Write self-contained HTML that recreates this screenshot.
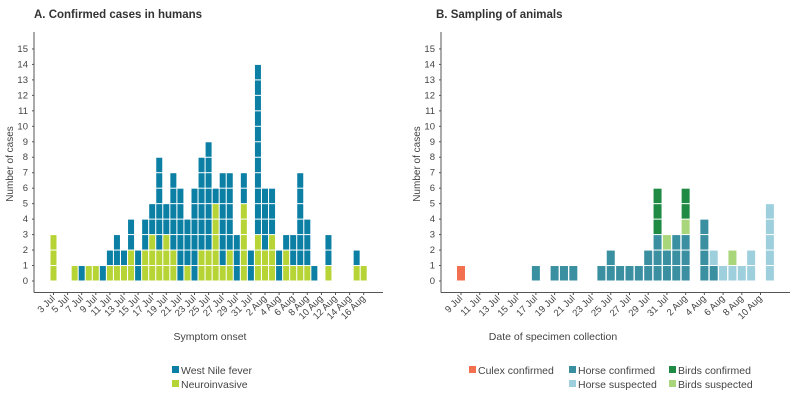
<!DOCTYPE html>
<html><head><meta charset="utf-8">
<style>
body{margin:0;background:#fff;}
svg{display:block;font-family:"Liberation Sans",sans-serif;}
</style></head>
<body>
<svg id="chart" width="800" height="400" viewBox="0 0 800 400">
<text x="34" y="18" font-size="11.5" font-weight="bold" fill="#333">A. Confirmed cases in humans</text>
<text x="436" y="18" font-size="11.5" font-weight="bold" fill="#333">B. Sampling of animals</text>
<g id="pa"></g>
<g id="pb"></g>
</svg>
<script>
// Panel A data: days 3 Jul (index 0) .. 16 Aug (index 44)
const aDays = ["3 Jul","4 Jul","5 Jul","6 Jul","7 Jul","8 Jul","9 Jul","10 Jul","11 Jul","12 Jul","13 Jul","14 Jul","15 Jul","16 Jul","17 Jul","18 Jul","19 Jul","20 Jul","21 Jul","22 Jul","23 Jul","24 Jul","25 Jul","26 Jul","27 Jul","28 Jul","29 Jul","30 Jul","31 Jul","1 Aug","2 Aug","3 Aug","4 Aug","5 Aug","6 Aug","7 Aug","8 Aug","9 Aug","10 Aug","11 Aug","12 Aug","13 Aug","14 Aug","15 Aug","16 Aug"];
const aNeuro = [3,0,0,1,0,1,1,0,1,1,1,2,0,2,3,2,3,2,0,1,0,2,2,5,1,2,0,5,0,3,2,3,0,2,1,1,1,0,0,1,0,0,0,1,1];
const aWnf   = [0,0,0,0,1,0,0,1,1,2,1,2,2,2,2,6,2,5,6,3,6,6,7,1,6,5,3,2,2,11,4,3,2,1,2,6,3,1,0,2,0,0,0,1,0];
const aTicks = ["3 Jul","5 Jul","7 Jul","9 Jul","11 Jul","13 Jul","15 Jul","17 Jul","19 Jul","21 Jul","23 Jul","25 Jul","27 Jul","29 Jul","31 Jul","2 Aug","4 Aug","6 Aug","8 Aug","10 Aug","12 Aug","14 Aug","16 Aug"];
// Panel B data: 9 Jul (index 0) .. 11 Aug (index 33)
const bDays = ["9 Jul","10 Jul","11 Jul","12 Jul","13 Jul","14 Jul","15 Jul","16 Jul","17 Jul","18 Jul","19 Jul","20 Jul","21 Jul","22 Jul","23 Jul","24 Jul","25 Jul","26 Jul","27 Jul","28 Jul","29 Jul","30 Jul","31 Jul","1 Aug","2 Aug","3 Aug","4 Aug","5 Aug","6 Aug","7 Aug","8 Aug","9 Aug","10 Aug","11 Aug"];
const bCulex     = [1,0,0,0,0,0,0,0,0,0,0,0,0,0,0,0,0,0,0,0,0,0,0,0,0,0,0,0,0,0,0,0,0,0];
const bHorseConf = [0,0,0,0,0,0,0,0,1,0,1,1,1,0,0,1,2,1,1,1,2,3,2,3,3,0,4,1,0,0,0,0,0,0];
const bHorseSusp = [0,0,0,0,0,0,0,0,0,0,0,0,0,0,0,0,0,0,0,0,0,0,0,0,0,0,0,1,1,1,1,2,0,5];
const bBirdsSusp = [0,0,0,0,0,0,0,0,0,0,0,0,0,0,0,0,0,0,0,0,0,0,1,0,1,0,0,0,0,1,0,0,0,0];
const bBirdsConf = [0,0,0,0,0,0,0,0,0,0,0,0,0,0,0,0,0,0,0,0,0,3,0,0,2,0,0,0,0,0,0,0,0,0];
const bTicks = ["9 Jul","11 Jul","13 Jul","15 Jul","17 Jul","19 Jul","21 Jul","23 Jul","25 Jul","27 Jul","29 Jul","31 Jul","2 Aug","4 Aug","6 Aug","8 Aug","10 Aug"];
const yTicks = [0,1,2,3,4,5,6,7,8,9,10,11,12,13,14,15];

const NS="http://www.w3.org/2000/svg";
function mk(parent,tag,attrs,text){const e=document.createElementNS(NS,tag);for(const k in attrs)e.setAttribute(k,attrs[k]);if(text!==undefined)e.textContent=text;parent.appendChild(e);return e;}
const base=281, rowH=15.47;
function y(v){return base-rowH*v;}

function panel(g,cfg){
  const ax=cfg.axisX, xEnd=cfg.xEnd;
  const yl=mk(g,'line',{x1:ax,y1:32,x2:ax,y2:292.5,stroke:'#555','stroke-width':1});
  
  
  const xl=mk(g,'line',{x1:ax,y1:292.5,x2:xEnd,y2:292.5,stroke:'#555','stroke-width':1});
  
  
  yTicks.forEach(v=>{
    const t=mk(g,'text',{x:ax-6,y:y(v)+3,'font-size':9.5,fill:'#444','text-anchor':'end'},String(v));
    
    
    mk(g,'line',{x1:ax-2,y1:y(v),x2:ax,y2:y(v),stroke:'#555'});
  });
  const yt=mk(g,'text',{x:0,y:0,'font-size':10,fill:'#444','text-anchor':'middle',transform:`translate(${ax-21},${164}) rotate(-90)`},'Number of cases');
  
  
  const xs=d=>cfg.x0+cfg.pitch*cfg.days.indexOf(d);
  cfg.ticks.forEach(d=>{
    const cx=xs(d);
    mk(g,'line',{x1:cx,y1:292.5,x2:cx,y2:295,stroke:'#555'});
    const t=mk(g,'text',{x:0,y:0,'font-size':9.5,fill:'#444','text-anchor':'end',transform:`translate(${cx+2},${299}) rotate(-45)`},d);
    
    
  });
  cfg.days.forEach((d,i)=>{
    let acc=0;
    cfg.series.forEach(s=>{
      for(let k=0;k<s.vals[i];k++){
        const r=mk(g,'rect',{x:xs(d)-cfg.w/2,y:y(acc+1)+0.5,width:cfg.w,height:rowH-1,fill:s.color});
        
        
        acc++;
      }
    });
  });
  const xt=mk(g,'text',{x:cfg.xTitleX,y:340,'font-size':10.5,fill:'#444','text-anchor':'middle'},cfg.xTitle);
  
  
  cfg.legend.forEach(l=>{
    const r=mk(g,'rect',{x:l.x,y:l.y-8,width:7,height:7,fill:l.color});
    
    
    const t=mk(g,'text',{x:l.x+9,y:l.y,'font-size':10.5,fill:'#444'},l.label);
    
    
  });
}
const C={wnf:'#0b7fa4',neuro:'#b7d437',culex:'#f26f4f',hc:'#3a8fa1',hs:'#9ecfdc',bc:'#1f8a43',bs:'#a9d57b'};
panel(document.getElementById('pa'),{axisX:34,xEnd:383,x0:53.5,pitch:7.05,w:6,days:aDays,ticks:aTicks,
  series:[{key:'neuroinvasive',vals:aNeuro,color:C.neuro},{key:'west-nile-fever',vals:aWnf,color:C.wnf}],
  xTitle:'Symptom onset',xTitleX:210,
  legend:[{x:172,y:374,color:C.wnf,label:'West Nile fever'},{x:172,y:388,color:C.neuro,label:'Neuroinvasive'}]});
panel(document.getElementById('pb'),{axisX:441,xEnd:790,x0:461,pitch:9.36,w:8,days:bDays,ticks:bTicks,
  series:[{key:'culex-confirmed',vals:bCulex,color:C.culex},{key:'horse-confirmed',vals:bHorseConf,color:C.hc},{key:'horse-suspected',vals:bHorseSusp,color:C.hs},{key:'birds-suspected',vals:bBirdsSusp,color:C.bs},{key:'birds-confirmed',vals:bBirdsConf,color:C.bc}],
  xTitle:'Date of specimen collection',xTitleX:553,
  legend:[{x:469,y:374,color:C.culex,label:'Culex confirmed'},{x:569,y:374,color:C.hc,label:'Horse confirmed'},{x:669,y:374,color:C.bc,label:'Birds confirmed'},{x:569,y:388,color:C.hs,label:'Horse suspected'},{x:669,y:388,color:C.bs,label:'Birds suspected'}]});
</script>
</body></html>
